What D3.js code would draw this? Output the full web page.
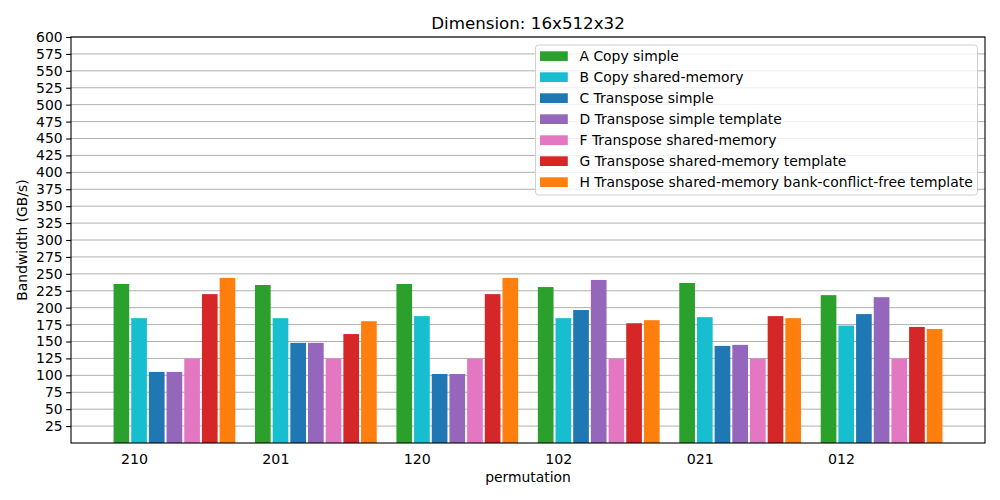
<!DOCTYPE html>
<html>
<head>
<meta charset="utf-8">
<script src="https://cdn.jsdelivr.net/npm/d3@7"></script>
<style>
  body { margin: 0; background: #fff; }
  text { font-family: "DejaVu Sans", sans-serif; fill: #000; }
</style>
</head>
<body>
<script>
// permutations on the x axis
var permutations = ["210", "201", "120", "102", "021", "012"];

var seriesNames = [
    "A Copy simple",
    "B Copy shared-memory",
    "C Transpose simple",
    "D Transpose simple template",
    "F Transpose shared-memory",
    "G Transpose shared-memory template",
    "H Transpose shared-memory bank-conflict-free template"
];
var seriesColors = ["#2ca02c", "#17becf", "#1f77b4", "#9467bd", "#e377c2", "#d62728", "#ff7f0e"];

// bandwidth in GB/s, one array per kernel
var copySimple = [235, 233.5, 235, 230.5, 236.5, 218.5];
var copyShared = [184.5, 184.5, 187.5, 184.5, 186, 173.5];
var transSimple = [105, 148, 102, 196.5, 143.5, 190.5];
var transSimpleTpl = [105, 148, 102, 241, 145, 215.5];
var transShared = [124.8, 124.8, 124.8, 124.8, 124.8, 124.8];
var transSharedTpl = [220, 161, 220, 177, 187.5, 171.5];
var transSharedBcf = [244, 180, 244, 181.5, 184.5, 168.5];

var yTicks = d3.range(25, 601, 25);

var series = [copySimple, copyShared, transSimple, transSimpleTpl, transShared, transSharedTpl, transSharedBcf];

var margin = { top: 37, right: 15, bottom: 57, left: 71 },
    width = 1000 - margin.left - margin.right,
    height = 500 - margin.top - margin.bottom;

var barW = 0.125;
var nBars = series.length;
var extent = (permutations.length - 1) + nBars * barW;
var pad = extent * 0.05;

var x = d3.scaleLinear().domain([-pad, extent + pad]).range([0, width]);
var y = d3.scaleLinear().domain([0, 600]).range([height, 0]);

var svg = d3.select("body").append("svg")
    .attr("width", 1000)
    .attr("height", 500);

var g = svg.append("g")
    .attr("transform", "translate(" + margin.left + "," + margin.top + ")");

// grid
g.append("g")
    .selectAll("line")
    .data(yTicks)
    .enter().append("line")
    .attr("x1", 0).attr("x2", width)
    .attr("y1", function (d) { return y(d); })
    .attr("y2", function (d) { return y(d); })
    .attr("stroke", "#b0b0b0")
    .attr("stroke-width", 1);

// bars
series.forEach(function (vals, j) {
    g.append("g")
        .selectAll("rect")
        .data(vals)
        .enter().append("rect")
        .attr("x", function (d, i) { return x(i + j * barW) + 1; })
        .attr("width", x(barW) - x(0) - 2)
        .attr("y", function (d) { return y(d); })
        .attr("height", function (d) { return y(0) - y(d); })
        .attr("fill", seriesColors[j]);
});

// y axis
var axisY = d3.axisLeft(y).tickValues(yTicks).tickSize(4.9).tickPadding(3.5);
var yAxis = g.append("g").call(axisY);
yAxis.select(".domain").remove();
yAxis.selectAll("line").attr("stroke", "#000").attr("stroke-width", 1.1);
yAxis.selectAll("text")
    .style("font-family", "DejaVu Sans")
    .style("font-size", "13.9px")
    .attr("fill", "#000");

// x tick labels
g.append("g")
    .selectAll("text")
    .data(permutations)
    .enter().append("text")
    .attr("x", function (d, i) { return x(i + 0.155); })
    .attr("y", height + 21)
    .attr("text-anchor", "middle")
    .style("font-size", "14.2px")
    .text(function (d) { return d; });

// frame
g.append("rect")
    .attr("width", width).attr("height", height)
    .attr("fill", "none")
    .attr("stroke", "#000")
    .attr("stroke-width", 1.1);

// labels
svg.append("text")
    .attr("x", margin.left + width / 2)
    .attr("y", 29)
    .attr("text-anchor", "middle")
    .style("font-size", "16.7px")
    .text("Dimension: 16x512x32");

svg.append("text")
    .attr("x", margin.left + width / 2)
    .attr("y", 482)
    .attr("text-anchor", "middle")
    .style("font-size", "13.9px")
    .text("permutation");

svg.append("text")
    .attr("transform", "translate(27," + (margin.top + height / 2) + ") rotate(-90)")
    .attr("text-anchor", "middle")
    .style("font-size", "13.9px")
    .text("Bandwidth (GB/s)");

// legend
var legend = svg.append("g").attr("transform", "translate(535.5,45)");
legend.append("rect")
    .attr("width", 442).attr("height", 150)
    .attr("rx", 3).attr("ry", 3)
    .attr("fill", "#fff").attr("fill-opacity", 0.8)
    .attr("stroke", "#d0d0d0");

var items = legend.selectAll(".item")
    .data(seriesNames)
    .enter().append("g")
    .attr("transform", function (d, i) { return "translate(0," + (11 + i * 21) + ")"; });

items.append("rect")
    .attr("x", 4.5).attr("y", -4.7)
    .attr("width", 27.8).attr("height", 9.7)
    .attr("fill", function (d, i) { return seriesColors[i]; });

items.append("text")
    .attr("x", 44)
    .attr("y", 5)
    .style("font-size", "13.9px")
    .text(function (d) { return d; });
</script>
</body>
</html>
